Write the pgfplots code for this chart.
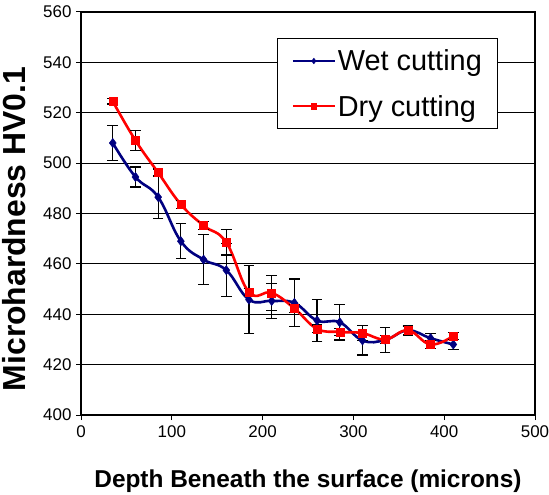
\documentclass[border=0pt]{standalone}
\usepackage{fontspec}
\setmainfont{Liberation Sans}
\usepackage{pgfplots}
\pgfplotsset{compat=1.18}
\usetikzlibrary{calc}

\definecolor{wetblue}{RGB}{0,0,128}
\definecolor{dryred}{RGB}{255,0,0}

% depth, hardness, error
\pgfplotstableread{
x    y      e
35   508    7
60   494.5  4
85   486.5  8.5
110  469    7
135  461.7  10
160  457.5  10.5
185  445.8  13.4
210  445.3  7
235  444.5  9.5
260  437.5  8.3
285  436.8  7
310  429.6  5.8
335  429.8  5
360  433.6  2
385  430.5  2
410  428    2
}\wet

\pgfplotstableread{
x    y      e
35   524.5  1
60   509    4
85   496.2  1.5
110  483.6  1.5
135  475.2  1.5
160  468.5  5
185  448.8  1.5
210  448.5  6.9
235  442.3  1.5
260  434.2  1.5
285  433    1.5
310  432.5  3
335  430    1.5
360  433.6  1.5
385  428    1.5
410  431.4  1.5
}\dry

\begin{document}
\begin{tikzpicture}
\begin{axis}[
    name=ax,
    scale only axis,
    width=454bp, height=403bp,
    xmin=0, xmax=500, ymin=400, ymax=560,
    xtick={0,100,...,500},
    ytick={400,420,...,560},
    axis line style={black, line width=1.1bp},
    tick style={black, line width=1bp},
    tick align=outside,
    major tick length=5bp,
    xtick pos=bottom, ytick pos=left,
    ymajorgrids,
    grid style={black, line width=1bp},
    /pgf/number format/assume math mode=true,
    tick label style={font=\fontsize{17}{20}\selectfont},
    yticklabel style={/pgf/number format/1000 sep={}, xshift=-1bp},
    xticklabel style={/pgf/number format/1000 sep={}, yshift=-2bp},
    xlabel={Depth Beneath the surface (microns)},
    ylabel={Microhardness HV0.1},
    xlabel style={font=\fontsize{24.5}{28}\selectfont\bfseries,
        at={(axis description cs:0.5,-0.1787)}, anchor=base},
    ylabel style={font=\fontsize{32}{36}\selectfont\bfseries,
        at={(axis description cs:-0.1228,0.4615)}, anchor=base},
    legend style={at={(0.4325,0.9347)}, anchor=north west,
        font=\fontsize{29}{34}\selectfont,
        draw=black, line width=1bp,
        inner xsep=14bp, inner ysep=9bp, row sep=19bp,
        cells={anchor=west, inner xsep=8bp}},
    legend image code/.code={
        \draw[mark repeat=2, mark phase=2, #1, line width=2bp, mark size=2.8bp]
            plot coordinates {(0bp,0bp) (21bp,0bp) (42bp,0bp)};
    },
    error bars/y dir=both,
    error bars/y explicit,
    error bars/error mark=-,
    error bars/error bar style={black, line width=1.2bp, solid},
    error bars/error mark options={rotate=90, black, line width=1.2bp, mark size=5.3bp, solid},
]
\addplot[wetblue, line width=2.6bp, smooth, tension=0.7, mark=diamond*,
    mark size=4.6bp, mark options={fill=wetblue, draw=wetblue, line width=0.5bp}]
    table[x=x, y=y, y error=e] {\wet};
\addlegendentry{Wet cutting}
\addplot[dryred, line width=2.6bp, smooth, tension=0.7, mark=square*,
    mark size=4bp, mark options={fill=dryred, draw=dryred, line width=0.5bp}]
    table[x=x, y=y, y error=e] {\dry};
\addlegendentry{Dry cutting}
\end{axis}
\pgfresetboundingbox
\useasboundingbox ($(ax.south west)+(-81bp,-79bp)$) rectangle ($(ax.north east)+(14bp,12bp)$);
\end{tikzpicture}
\end{document}
